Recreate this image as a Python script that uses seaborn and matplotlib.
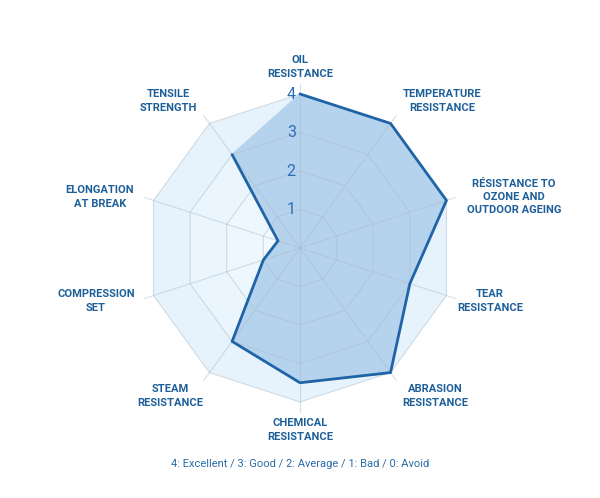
import numpy as np
import pandas as pd
import matplotlib
matplotlib.use("Agg")
import matplotlib.pyplot as plt
import seaborn as sns

# datos del radar (en sentido horario desde arriba)
categorias = ["OIL\nRESISTANCE", "TEMPERATURE\nRESISTANCE",
              "RÉSISTANCE TO\nOZONE AND\nOUTDOOR AGEING", "TEAR\nRESISTANCE",
              "ABRASION\nRESISTANCE", "CHEMICAL\nRESISTANCE", "STEAM\nRESISTANCE",
              "COMPRESSION\nSET", "ELONGATION\nAT BREAK", "TENSILE\nSTRENGTH"]
valores = [4, 4, 4, 3, 4, 3.5, 3, 1, 0.6, 3]
niveles = [1, 2, 3, 4]
nota = "4: Excellent / 3: Good / 2: Average / 1: Bad / 0: Avoid"

sns.set_theme(style="white")
plt.rcParams['font.family'] = ['Roboto', 'DejaVu Sans']

azul_txt = "#1d5f99"
W, H = 600, 498
fig = plt.figure(figsize=(6, 4.98), dpi=100)
R = 4.3
rad_px = 154 * R / 4
cx, cy = 300, 248
ax = fig.add_axes([(cx - rad_px) / W, (H - cy - rad_px) / H, 2 * rad_px / W, 2 * rad_px / H],
                  projection="polar")
ax.set_theta_offset(np.pi / 2)
ax.set_theta_direction(-1)
ax.grid(False)
ax.spines["polar"].set_visible(False)
ax.patch.set_alpha(0)

n = len(categorias)
ang = np.linspace(0, 2 * np.pi, n, endpoint=False)
ang_c = np.append(ang, ang[0])

# bandas de fondo
colores_banda = ["#e6f3fc", "#eaf5fd", "#eef7fd", "#f2f9fe"]
for nivel, col in zip(niveles[::-1], colores_banda):
    ax.fill(ang_c, [nivel] * (n + 1), color=col, lw=0, zorder=1)

# poligono de datos
df = pd.DataFrame({"ang": ang_c, "val": valores + [valores[0]]})
ax.fill(df["ang"], df["val"], color="#b6d3ee", zorder=2)

# rejilla encima del relleno
for nivel in niveles:
    ax.plot(ang_c, [nivel] * (n + 1), color="#a9b8c6", alpha=0.45, lw=0.8, zorder=3)
for a in ang:
    ax.plot([a, a], [0, 4.25], color="#a9b8c6", alpha=0.45, lw=0.8, zorder=3)

sns.lineplot(data=df, x="ang", y="val", sort=False, ax=ax, color="#1f64a6", lw=2, zorder=4)
ax.set_xlabel("")
ax.set_ylabel("")
ax.set_xticks([])
ax.set_yticks([])
ax.set_ylim(0, R)

for nivel in niveles:
    ax.annotate(str(nivel), xy=(0, nivel), xytext=(-3, 0), textcoords="offset points",
                ha="right", va="center", fontsize=11.5, color="#2a6fb5", zorder=5)

# etiquetas
pos_etiquetas = [(300, 67), (442, 101), (514, 197), (490, 301), (435, 396),
                 (300, 430), (170, 396), (96, 301), (100, 197), (168, 101)]
for txt, (x, y) in zip(categorias, pos_etiquetas):
    fig.text(x / W, 1 - y / H, txt, ha="center", va="center", fontsize=8,
             fontweight="bold", color=azul_txt, linespacing=1.4)

fig.text(300 / W, 1 - 464 / H, nota, ha="center", va="center", fontsize=8, color="#2b6ca8")

plt.savefig("out.png", dpi=100)
